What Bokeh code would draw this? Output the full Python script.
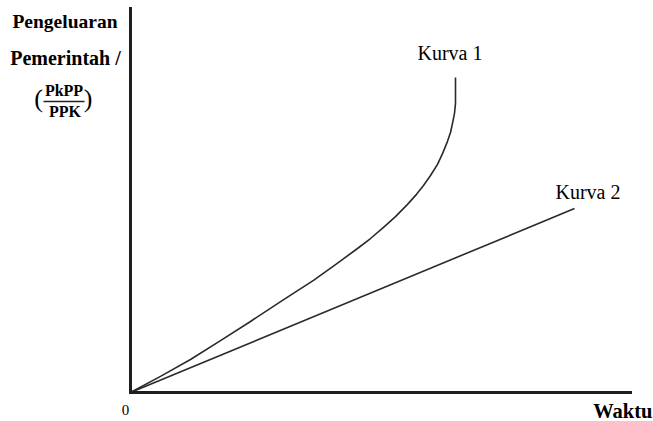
from bokeh.plotting import figure
from bokeh.models import Label, BoxAnnotation, Range1d, FixedTicker, LinearAxis
from bokeh.embed import file_html
from bokeh.resources import INLINE

# Data (arbitrary units)
waktu_kurva1 = [0, 6.0, 12.0, 18.0, 24.0, 30.4, 36.6, 41.0, 45.4, 48.0, 50.6, 53.0,
                55.4, 57.2, 58.6, 60.0, 61.4, 62.4, 63.4, 64.0, 64.4, 64.8, 65.0, 65.0, 65.0]
pengeluaran_kurva1 = [0, 4.2, 8.6, 13.5, 18.5, 24.0, 29.2, 33.3, 37.5, 40.1, 43.0, 45.8,
                      49.0, 51.6, 53.9, 56.5, 59.4, 62.2, 65.4, 67.7, 70.1, 72.7, 75.3, 78.6, 82.0]
waktu_kurva2 = [0, 88.8]
pengeluaran_kurva2 = [0, 47.9]
axis_bounds = (0, 100)
series_labels = ["Kurva 1", "Kurva 2"]
y_label_lines = ["Pengeluaran", "Pemerintah /"]
fraction_num = "PkPP"
fraction_den = "PPK"
x_label = "Waktu"
origin_label = "0"

SERIF = "Liberation Serif"

# The frame fills the whole canvas; the axes sit at data 0 with fixed_location.
p = figure(width=653, height=421, output_backend="svg", toolbar_location=None,
           x_range=Range1d(-26.0, 104.6), y_range=Range1d(-7.552, 102.083),
           x_axis_location=None, y_axis_location=None,
           min_border=0, min_border_left=0, min_border_right=0,
           min_border_top=0, min_border_bottom=0)
p.outline_line_color = None
p.grid.visible = False
p.background_fill_color = "white"
p.border_fill_color = "white"

def make_axis():
    return LinearAxis(fixed_location=0, bounds=axis_bounds, ticker=FixedTicker(ticks=[]),
                      major_tick_in=0, major_tick_out=0, minor_tick_in=0, minor_tick_out=0,
                      major_label_standoff=0, major_label_text_font_size="0px",
                      axis_line_width=3, axis_line_color="#1e1e1e", axis_line_cap="square")

p.add_layout(make_axis(), "left")
p.add_layout(make_axis(), "below")

p.line(waktu_kurva1, pengeluaran_kurva1, line_color="#2a2a2a", line_width=1.6,
       line_join="round")
p.line(waktu_kurva2, pengeluaran_kurva2, line_color="#2a2a2a", line_width=1.6)

def lab(text, x, y, size, bold=False, align="center"):
    p.add_layout(Label(x=x, y=y, text=text, text_font=SERIF, text_font_size=size,
                       text_font_style="bold" if bold else "normal", text_color="black",
                       text_align=align, text_baseline="alphabetic"))

# curve labels
lab(series_labels[0], 63.9, 88.3, "20px")
lab(series_labels[1], 91.5, 52.3, "20px")

# y-axis title
lab(y_label_lines[0], -13.1, 96.6, "19.5px", bold=True)
lab(y_label_lines[1], -13.0, 87.0, "20px", bold=True)
lab(fraction_num, -13.3, 78.6, "16px", bold=True)
lab(fraction_den, -13.1, 73.2, "16px", bold=True)
lab("(", -18.4, 76.6, "26px")
lab(")", -8.5, 76.6, "26px")
p.add_layout(BoxAnnotation(left=-17.4, right=-9.2, bottom=75.6, top=76.0,
                           fill_color="#222222", fill_alpha=1.0, line_color=None))

# x-axis labels
lab(origin_label, -1.0, -4.6, "15px")
lab(x_label, 104.4, -4.7, "20.5px", bold=True, align="right")

open("out.html", "w").write(file_html(p, INLINE))
